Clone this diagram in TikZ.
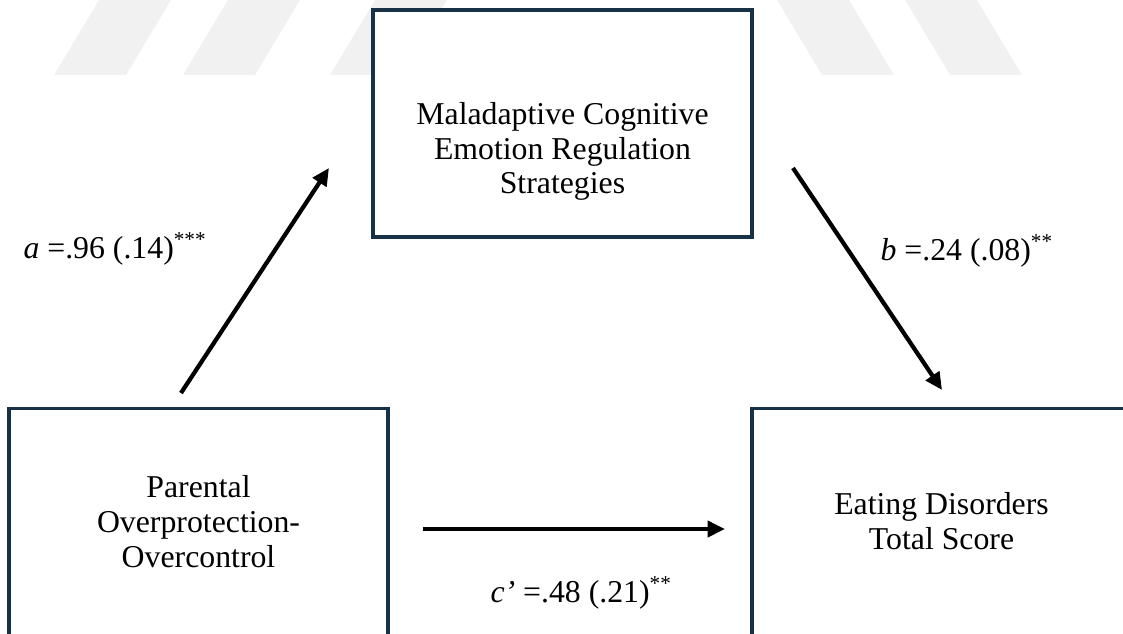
\documentclass[tikz,border=0pt]{standalone}
\usepackage{fontspec}
\setmainfont{Liberation Serif}
\usetikzlibrary{arrows.meta}
\definecolor{boxline}{RGB}{23,50,70}
\definecolor{stripe}{RGB}{241,241,241}

\begin{document}
\begin{tikzpicture}[
    varbox/.style={draw=boxline, fill=white, line width=1.2pt, minimum width=5.03cm, minimum height=3.01cm, inner sep=0pt},
    lowbox/.style={varbox, minimum height=3.4cm},
    vartext/.style={align=center, font=\fontsize{12}{13.2}\selectfont},
    pathline/.style={line width=1.6pt, -{Triangle[length=0.23cm, width=0.21cm]}},
    coef/.style={anchor=base west, inner sep=0pt, font=\fontsize{12}{13.2}\selectfont}]
  \useasboundingbox (0,0) rectangle (14.9,8.399);
  % faint watermark stripes
  \fill[stripe] (0.716,7.404) -- (1.672,7.404) -- (2.269,8.399) -- (1.314,8.399) -- cycle;
  \fill[stripe] (2.428,7.404) -- (3.383,7.404) -- (3.980,8.399) -- (3.025,8.399) -- cycle;
  \fill[stripe] (4.378,7.404) -- (5.334,7.404) -- (5.931,8.399) -- (4.975,8.399) -- cycle;
  \fill[stripe] (10.906,7.404) -- (11.862,7.404) -- (11.265,8.399) -- (10.309,8.399) -- cycle;
  \fill[stripe] (12.605,7.404) -- (13.560,7.404) -- (12.963,8.399) -- (12.008,8.399) -- cycle;
  % variables
  \node[varbox] (mal) at (7.463,6.760) {};
  \node[vartext] (maltext) at ([yshift=-0.37cm]mal.center) {Maladaptive Cognitive\\Emotion Regulation\\Strategies};
  \node[lowbox] (poc) at (2.634,1.284) {};
  \node[vartext] (poctext) at (2.634,1.479) {Parental\\Overprotection-\\Overcontrol};
  \node[lowbox] (eds) at (12.492,1.284) {};
  \node[vartext] (edstext) at (12.492,1.479) {Eating Disorders\\Total Score};
  % paths
  \coordinate (a0) at (2.401,3.184);
  \coordinate (a1) at (4.365,6.170);
  \coordinate (b0) at (10.521,6.170);
  \coordinate (b1) at (12.499,3.224);
  \coordinate (c0) at (5.612,1.380);
  \coordinate (c1) at (9.619,1.380);
  \draw[pathline] (a0) -- (a1);
  \draw[pathline] (b0) -- (b1);
  \draw[pathline] (c0) -- (c1);
  \node[coef] (alab) at (0.305,4.975) {\textit{a} =.96 (.14)\textsuperscript{***}};
  \node[coef] (blab) at (11.676,4.949) {\textit{b} =.24 (.08)\textsuperscript{**}};
  \node[coef] (clab) at (6.501,0.411) {\textit{c’} =.48 (.21)\textsuperscript{**}};
\end{tikzpicture}
\end{document}
